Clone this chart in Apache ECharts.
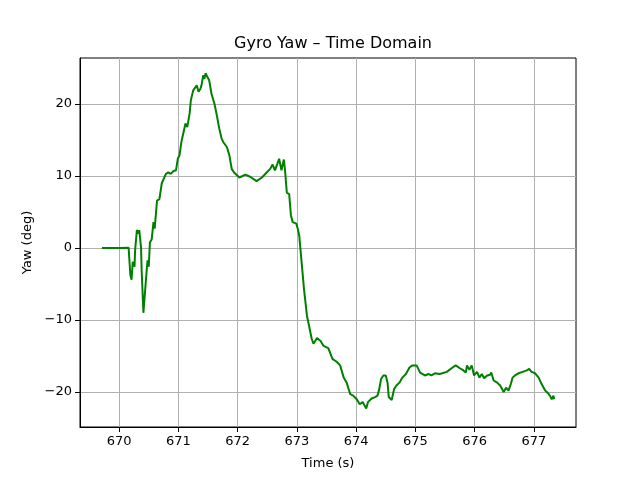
<!DOCTYPE html>
<html>
<head>
<meta charset="utf-8">
<script src="https://cdn.jsdelivr.net/npm/echarts@6/dist/echarts.min.js"></script>
<style>
  html, body { margin: 0; padding: 0; background: #fff; }
  #chart { width: 640px; height: 480px; }
</style>
</head>
<body>
<div id="chart"></div>
<script>
// time (s) and yaw (deg)
var timeS = [
  669.71, 670.00, 670.16, 670.19, 670.21, 670.23, 670.26, 670.27, 670.30, 670.33,
  670.34, 670.37, 670.38, 670.41, 670.44, 670.47, 670.48, 670.50, 670.52, 670.55,
  670.58, 670.60, 670.64, 670.68, 670.72, 670.75, 670.79, 670.83, 670.87, 670.92,
  670.96, 670.99, 671.02, 671.05, 671.08, 671.12, 671.15, 671.19, 671.21, 671.25,
  671.28, 671.31, 671.34, 671.37, 671.39, 671.42, 671.44, 671.46, 671.49, 671.52,
  671.56, 671.61, 671.65, 671.69, 671.73, 671.76, 671.82, 671.86, 671.90, 671.94,
  671.99, 672.03, 672.13, 672.21, 672.32, 672.41, 672.49, 672.55, 672.59, 672.63,
  672.67, 672.70, 672.74, 672.78, 672.80, 672.83, 672.87, 672.90, 672.93, 672.95,
  672.99, 673.02, 673.04, 673.08, 673.12, 673.17, 673.20, 673.25, 673.28, 673.34,
  673.40, 673.45, 673.53, 673.60, 673.67, 673.73, 673.79, 673.84, 673.90, 673.95,
  674.01, 674.06, 674.11, 674.17, 674.20, 674.26, 674.32, 674.36, 674.39, 674.42,
  674.46, 674.50, 674.53, 674.55, 674.60, 674.64, 674.68, 674.73, 674.78, 674.84,
  674.90, 674.95, 675.02, 675.08, 675.16, 675.22, 675.27, 675.33, 675.41, 675.53,
  675.61, 675.68, 675.75, 675.81, 675.85, 675.87, 675.91, 675.95, 675.99, 676.04,
  676.08, 676.12, 676.16, 676.21, 676.26, 676.28, 676.32, 676.38, 676.43, 676.49,
  676.53, 676.57, 676.61, 676.64, 676.68, 676.74, 676.81, 676.88, 676.92, 676.96,
  677.02, 677.08, 677.13, 677.19, 677.23, 677.27, 677.30, 677.33, 677.34
];
var yawDeg = [
  0, 0, 0.05, -3.75, -4.4, -1.9, -2.6, -0.3, 2.5, 2.0,
  2.5, 0.1, -3.0, -9.0, -5.8, -2.6, -1.7, -2.6, 0.8, 1.2,
  3.6, 2.7, 6.6, 6.8, 9.0, 8.9, 10.3, 10.5, 10.3, 10.7,
  10.8, 12.4, 12.9, 14.7, 14.7, 17.3, 16.8, 18.7, 20.5, 21.9,
  22.1, 22.6, 21.7, 22.1, 22.6, 24.0, 23.5, 24.3, 23.75, 23.3,
  21.4, 20.0, 18.4, 16.6, 15.2, 14.7, 14.0, 12.9, 11.0, 10.5,
  10.1, 9.8, 10.2, 9.9, 9.3, 9.8, 10.5, 11.0, 11.6, 10.8,
  11.7, 12.4, 10.8, 12.3, 10.8, 7.7, 7.5, 4.5, 3.6, 3.8,
  3.4, 2.5, 1.7, -2.0, -5.7, -9.4, -9.6, -12.6, -13.3, -12.5,
  -12.9, -13.6, -13.9, -15.4, -15.8, -16.3, -18.0, -18.7, -20.3, -20.5,
  -21.0, -21.7, -21.4, -22.3, -21.4, -20.9, -20.7, -20.5, -19.6, -18.2,
  -17.7, -17.7, -18.7, -20.7, -21.1, -19.6, -19.1, -18.7, -18.0, -17.5,
  -16.6, -16.3, -16.3, -17.3, -17.7, -17.5, -17.7, -17.4, -17.5, -17.2,
  -16.7, -16.3, -16.7, -17.0, -17.3, -16.3, -16.9, -16.3, -17.7, -17.2,
  -18.0, -17.5, -18.1, -17.7, -17.6, -17.3, -18.4, -18.7, -19.1, -20.0,
  -19.4, -19.8, -18.9, -18.0, -17.7, -17.4, -17.2, -17.0, -16.8, -17.2,
  -17.4, -18.0, -18.9, -19.8, -20.1, -20.5, -21.0, -20.5, -21.0
];
var xTicks = [670, 671, 672, 673, 674, 675, 676, 677];
var yTicks = [-20, -10, 0, 10, 20];

var chart = echarts.init(document.getElementById('chart'));

var seriesData = [];
for (var i = 0; i < timeS.length; i++) {
    seriesData.push([timeS[i], yawDeg[i]]);
}

function minusFmt(v) {
    return String(v).replace('-', '\u2212');
}

var font = 'DejaVu Sans';

var option = {
    backgroundColor: '#fff',
    animation: false,
    title: {
        text: 'Gyro Yaw \u2013 Time Domain',
        left: 328,
        top: 31,
        textAlign: 'center',
        textStyle: { fontFamily: font, fontSize: 16, fontWeight: 'normal', color: '#000' }
    },
    grid: {
        left: 80, right: 64, top: 58, bottom: 53,
        show: true, borderColor: '#000', borderWidth: 1
    },
    xAxis: {
        type: 'value',
        min: 669.34,
        max: 677.71,
        name: 'Time (s)',
        nameLocation: 'middle',
        nameGap: 30,
        nameTextStyle: { fontFamily: font, fontSize: 13, color: '#000' },
        axisLine: { show: true, onZero: false, lineStyle: { color: '#000' } },
        axisTick: { show: true, length: 5, customValues: xTicks, lineStyle: { color: '#000' } },
        axisLabel: {
            customValues: xTicks, fontFamily: font, fontSize: 13, color: '#000', margin: 8,
            formatter: minusFmt
        },
        splitLine: { show: true, lineStyle: { color: '#b0b0b0', width: 1 } }
    },
    yAxis: {
        type: 'value',
        min: -24.86,
        max: 26.4,
        name: 'Yaw (deg)',
        nameLocation: 'middle',
        nameGap: 46,
        nameTextStyle: { fontFamily: font, fontSize: 13, color: '#000' },
        axisLine: { show: true, onZero: false, lineStyle: { color: '#000' } },
        axisTick: { show: true, length: 5, customValues: yTicks, lineStyle: { color: '#000' } },
        axisLabel: {
            customValues: yTicks, fontFamily: font, fontSize: 13, color: '#000', margin: 8,
            formatter: minusFmt
        },
        splitLine: { show: true, lineStyle: { color: '#b0b0b0', width: 1 } }
    },
    series: [{
        type: 'line',
        data: seriesData,
        showSymbol: false,
        lineStyle: { color: '#008000', width: 2 },
        itemStyle: { color: '#008000' }
    }]
};

chart.setOption(option);
</script>
</body>
</html>
